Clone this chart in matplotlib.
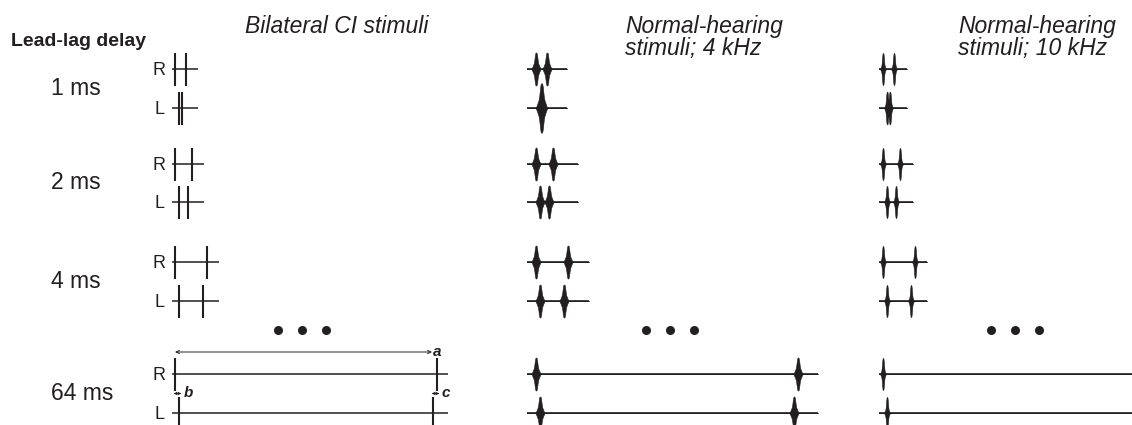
import numpy as np
import matplotlib.pyplot as plt

plt.rcParams["font.family"] = ["Liberation Sans", "DejaVu Sans"]

delay_labels = ["1 ms", "2 ms", "4 ms", "64 ms"]

# pulse onsets as drawn in the schematic (px to the right of the R lead pulse)
r_lead = [0, 0, 0, 0]
r_lag = [11, 17, 32, 262]
l_lead = [4, 4, 4, 4]
l_lag = [7, 13, 28, 258]

# where each baseline stops in the three panels
ci_end = [23, 29, 44, 273]
nh4_end = [31, 42, 53, 282]
nh10_end = [24, 30, 44, 260]

titles = [["Bilateral CI stimuli"],
          ["Normal-hearing", "stimuli; 4 kHz"],
          ["Normal-hearing", "stimuli; 10 kHz"]]

# layout (pixels)
W, H = 1132, 425
r_y = [69, 164, 262, 374]
l_y = [108, 202, 301, 413]
ci_x0, nh4_x0, nh10_x0 = 175, 536, 883
ink = "#231f20"

fig = plt.figure(figsize=(W / 100, H / 100), dpi=100)
ax = fig.add_axes([0, 0, 1, 1])
ax.set_xlim(0, W)
ax.set_ylim(H, 0)
ax.axis("off")


def ci_row(x0, y, onsets, end):
    ax.plot([x0 - 3, x0 + end], [y, y], color=ink, lw=1.1, solid_capstyle="butt")
    for t in onsets:
        ax.plot([x0 + t, x0 + t], [y - 16.5, y + 16.5], color=ink, lw=1.5,
                solid_capstyle="butt")


def burst(d, spike, body):
    # tall narrow peak on a short, wider body
    return (spike[0] * np.exp(-np.abs(d / spike[1]) ** 3)
            + body[0] * np.exp(-np.abs(d / body[1]) ** 4))


def nh_row(x0, y, onsets, start, end, spike, body, fuse):
    ts = sorted(onsets)
    bursts = []
    i = 0
    while i < len(ts):
        if i + 1 < len(ts) and ts[i + 1] - ts[i] < fuse:
            bursts.append(((ts[i] + ts[i + 1]) / 2, 1.5))
            i += 2
        else:
            bursts.append((ts[i], 1.0))
            i += 1
    xx = np.linspace(x0 + start, x0 + end, 4000)
    env = np.zeros_like(xx)
    for t, k in bursts:
        d = xx - (x0 + t)
        env += k * burst(d, (spike[0], spike[1] * (1 + (k - 1) * 0.5)),
                         (body[0], body[1] * (1 + (k - 1) * 0.5)))
    ax.plot([x0 + start, x0 + end], [y, y], color=ink, lw=1.2, solid_capstyle="butt")
    ax.fill_between(xx, y - env, y + env, color=ink, lw=0.4, ec=ink)


for i in range(len(delay_labels)):
    ci_row(ci_x0, r_y[i], [r_lead[i], r_lag[i]], ci_end[i])
    ci_row(ci_x0, l_y[i], [l_lead[i], l_lag[i]], ci_end[i])
    nh_row(nh4_x0, r_y[i], [r_lead[i], r_lag[i]], -9, nh4_end[i], (10.5, 1.6), (6, 3.6), 5)
    nh_row(nh4_x0, l_y[i], [l_lead[i], l_lag[i]], -9, nh4_end[i], (10.5, 1.6), (6, 3.6), 5)
    nh_row(nh10_x0, r_y[i], [r_lead[i], r_lag[i]], -4, nh10_end[i], (12, 1.1), (4, 2.3), 0)
    nh_row(nh10_x0, l_y[i], [l_lead[i], l_lag[i]], -4, nh10_end[i], (12, 1.1), (4, 2.3), 0)

    mid = (r_y[i] + l_y[i]) / 2
    ax.text(51, mid + 6, delay_labels[i], fontsize=16.5, color=ink, va="baseline")
    ax.text(153, r_y[i] + 6, "R", fontsize=13, color=ink, va="baseline")
    ax.text(154, l_y[i] + 6, "L", fontsize=13, color=ink, va="baseline")

ax.text(11, 46, "Lead-lag delay", fontsize=14, fontweight="bold", color=ink,
        va="baseline")

for x, lines in zip([245, 625, 958], titles):
    for j, line in enumerate(lines):
        ax.text(x, 33 + 21.5 * j, line, fontsize=16.5, style="italic", color=ink,
                va="baseline")

# ellipsis dots between the 4 ms and 64 ms rows
for xc in [302, 670, 1015]:
    ax.plot([xc - 24, xc, xc + 24], [330, 330, 330], "o", ms=6.5, color=ink, mec="none")

# a, b, c annotations on the 64 ms CI stimuli
k = len(delay_labels) - 1
ya = r_y[k] - 22
ax.annotate("", xy=(ci_x0 + r_lag[k] - 5, ya), xytext=(ci_x0 + r_lead[k], ya),
            arrowprops=dict(arrowstyle="<->", lw=0.7, color=ink, mutation_scale=6,
                            shrinkA=0, shrinkB=0))
ax.text(ci_x0 + r_lag[k], ya, "a", fontsize=11, fontweight="bold", style="italic",
        color=ink, ha="center", va="center")


def tiny_arrow(x1, x2, y):
    ax.plot([x1, x2], [y, y], color=ink, lw=0.6)
    ax.plot([x1 + 0.8], [y], marker="<", ms=2.6, color=ink, mec="none")
    ax.plot([x2 - 0.8], [y], marker=">", ms=2.6, color=ink, mec="none")


yb = r_y[k] + 19
tiny_arrow(ci_x0 + r_lead[k] - 1, ci_x0 + l_lead[k] + 1, yb)
ax.text(ci_x0 + l_lead[k] + 5, yb, "b", fontsize=11, fontweight="bold", style="italic",
        color=ink, va="center")
tiny_arrow(ci_x0 + l_lag[k] - 1, ci_x0 + r_lag[k] + 1, yb)
ax.text(ci_x0 + r_lag[k] + 5, yb, "c", fontsize=11, fontweight="bold", style="italic",
        color=ink, va="center")

plt.savefig("out.png", dpi=100)
